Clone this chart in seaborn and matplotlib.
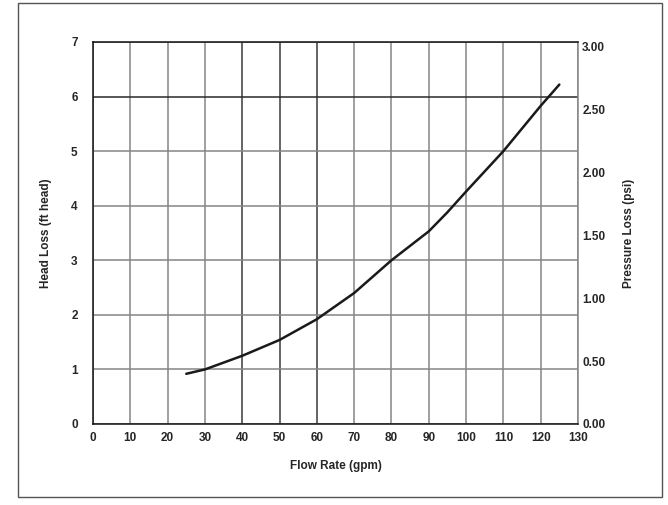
import matplotlib
matplotlib.use("Agg")
import matplotlib.pyplot as plt
import seaborn as sns
import pandas as pd
from matplotlib.patches import Rectangle

# Data
flow_gpm = [25, 30, 40, 50, 60, 70, 80, 90, 95, 100, 110, 120, 125]
head_loss_ft = [0.92, 1.00, 1.25, 1.54, 1.92, 2.40, 3.00, 3.53, 3.88, 4.26, 5.00, 5.83, 6.22]
x_ticks = list(range(0, 131, 10))
left_ticks = list(range(0, 8))
right_ticks = [0.0, 0.5, 1.0, 1.5, 2.0, 2.5, 3.0]
right_labels = ["0.00", "0.50", "1.00", "1.50", "2.00", "2.50", "3.00"]
FT_TO_PSI = 0.4335

sns.set_style("white")
plt.rcParams['font.family'] = ['Liberation Sans', 'DejaVu Sans']
plt.rcParams['font.weight'] = 'bold'

df = pd.DataFrame({"flow": flow_gpm, "head": head_loss_ft})

fig = plt.figure(figsize=(6.68, 5.05), dpi=100)
fig.patches.append(Rectangle((18 / 668, 8 / 505), (662 - 18) / 668, (502 - 8) / 505,
                             transform=fig.transFigure, fill=False,
                             edgecolor='#555555', linewidth=1.0))
ax = fig.add_axes([93 / 668, 81 / 505, (578 - 93) / 668, (424 - 42) / 505])

sns.lineplot(data=df, x="flow", y="head", ax=ax, color='#1a1a1a', linewidth=1.8, zorder=5)

ax.set_xlim(0, 130)
ax.set_ylim(0, 7)
ax.set_xticks(x_ticks)
ax.set_yticks(left_ticks)
ax.set_xticklabels([str(v) for v in x_ticks], fontsize=8.5, fontweight='bold')
ax.set_yticklabels([str(v) for v in left_ticks], fontsize=8.5, fontweight='bold')
ax.tick_params(axis='both', length=0)
ax.tick_params(axis='x', pad=6)
ax.tick_params(axis='y', pad=11)
ax.grid(True, color='#858585', linewidth=1.1)
for gl, v in zip(ax.get_xgridlines(), x_ticks):
    if v in (40, 50, 60):
        gl.set_color('#3a3a3a')
for gl, v in zip(ax.get_ygridlines(), left_ticks):
    if v == 6:
        gl.set_color('#2a2a2a')
for s in ax.spines.values():
    s.set_color('#111111')
    s.set_linewidth(1.1)
ax.spines['right'].set_color('#858585')

ax.set_xlabel("Flow Rate (gpm)", fontsize=8.5, fontweight='bold', labelpad=11)
ax.set_ylabel("Head Loss (ft head)", fontsize=8.5, fontweight='bold', labelpad=14)

ax2 = ax.twinx()
ax2.set_ylim(0, 7 * FT_TO_PSI)
ax2.set_yticks(right_ticks)
ax2.set_yticklabels(right_labels, fontsize=8.5, fontweight='bold')
ax2.tick_params(axis='y', length=0, pad=3)
ax2.grid(False)
for s in ax2.spines.values():
    s.set_visible(False)
ax2.set_ylabel("Pressure Loss (psi)", fontsize=8.5, fontweight='bold', labelpad=13)

fig.savefig("out.png", dpi=100)
